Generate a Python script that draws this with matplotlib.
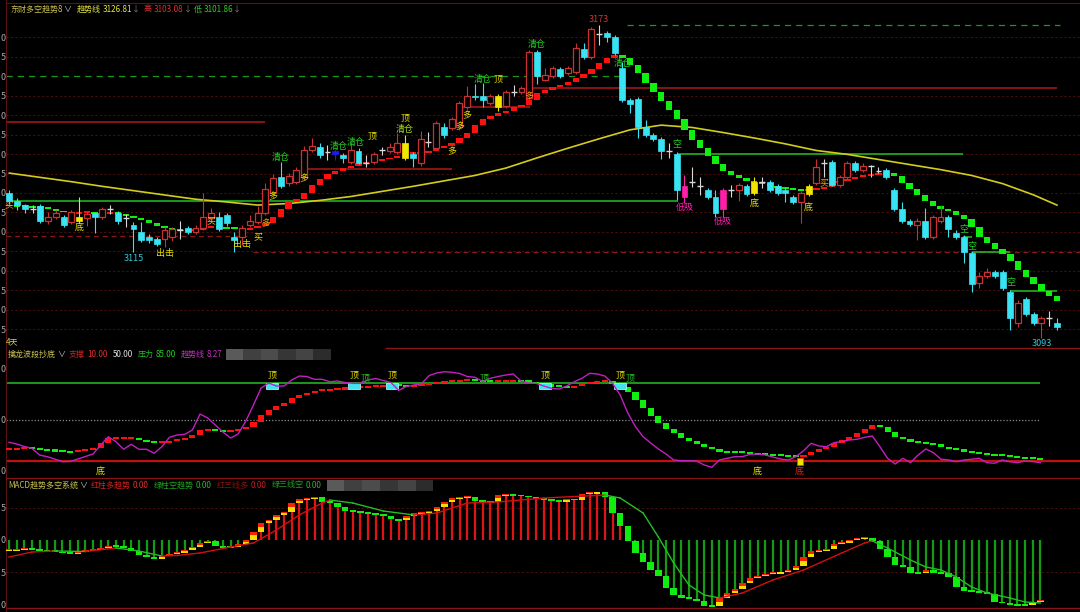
import matplotlib
matplotlib.use('Agg')
import matplotlib.pyplot as plt
from matplotlib.patches import Rectangle

plt.rcParams['font.family'] = ['Noto Sans CJK SC', 'DejaVu Sans']
plt.rcParams['axes.unicode_minus'] = False

# ---------------- 主图 K线 ----------------
opens = [3130.0, 3127.9, 3126.9, 3126.0, 3126.7, 3122.8, 3123.8, 3123.8, 3122.6, 3123.8,
         3123.6, 3124.9, 3123.8, 3125.9, 3124.9, 3123.6, 3121.8, 3119.9, 3118.7, 3118.2,
         3118.2, 3118.7, 3120.5, 3121.0, 3120.0, 3121.0, 3123.6, 3123.8, 3124.4, 3118.7,
         3118.7, 3121.8, 3122.6, 3124.9, 3130.0, 3134.1, 3132.6, 3132.8, 3134.1, 3141.0,
         3141.8, 3140.5, 3140.8, 3139.7, 3137.9, 3140.8, 3137.7, 3137.9, 3141.0, 3140.8,
         3140.5, 3142.8, 3140.0, 3137.7, 3143.1, 3141.5, 3146.9, 3146.7, 3146.9, 3152.1,
         3154.9, 3154.9, 3153.1, 3154.9, 3152.3, 3155.9, 3155.9, 3154.4, 3166.2, 3159.0,
         3160.0, 3161.8, 3160.8, 3161.0, 3166.9, 3164.9, 3170.8, 3171.0, 3170.0, 3162.1,
         3153.8, 3154.1, 3146.9, 3144.9, 3143.8, 3140.8, 3140.0, 3131.8, 3132.8, 3131.8,
         3130.8, 3129.0, 3130.8, 3130.8, 3130.8, 3131.8, 3132.8, 3132.8, 3132.8, 3131.8,
         3130.8, 3129.0, 3127.7, 3131.8, 3132.6, 3137.7, 3137.9, 3132.1, 3134.1, 3137.7,
         3135.9, 3136.9, 3135.6, 3135.9, 3130.8, 3125.9, 3122.8, 3121.8, 3122.8, 3118.7,
         3122.8, 3123.8, 3119.7, 3118.7, 3114.6, 3106.9, 3108.7, 3109.7, 3109.7, 3104.6,
         3096.7, 3102.8, 3099.0, 3096.7, 3097.9, 3096.7]
highs = [3130.8, 3128.7, 3127.2, 3126.9, 3127.2, 3125.1, 3125.6, 3124.4, 3125.6, 3129.0,
         3125.1, 3125.1, 3126.4, 3126.9, 3125.4, 3124.6, 3122.6, 3122.6, 3119.4, 3118.7,
         3121.3, 3121.3, 3122.8, 3121.6, 3121.8, 3130.0, 3126.2, 3125.1, 3124.9, 3120.0,
         3121.8, 3124.4, 3126.7, 3132.6, 3134.9, 3137.9, 3135.1, 3136.7, 3142.1, 3144.1,
         3142.8, 3142.3, 3141.3, 3140.3, 3143.1, 3141.5, 3139.7, 3140.5, 3141.8, 3142.8,
         3145.4, 3145.0, 3140.5, 3145.9, 3145.6, 3148.5, 3147.9, 3149.5, 3153.6, 3157.4,
         3158.0, 3158.2, 3155.4, 3155.4, 3156.4, 3157.7, 3157.4, 3166.7, 3166.7, 3162.1,
         3162.6, 3162.3, 3162.6, 3168.5, 3168.5, 3172.6, 3173.1, 3171.5, 3170.5, 3163.6,
         3154.4, 3154.6, 3148.7, 3145.4, 3144.4, 3142.8, 3140.5, 3134.6, 3136.7, 3134.1,
         3131.3, 3130.8, 3131.3, 3132.1, 3132.6, 3132.3, 3134.1, 3134.1, 3133.3, 3132.3,
         3131.3, 3129.5, 3130.5, 3132.3, 3138.7, 3138.7, 3138.5, 3134.6, 3138.2, 3138.2,
         3137.7, 3137.2, 3136.7, 3136.4, 3131.3, 3127.7, 3123.3, 3123.6, 3126.2, 3124.4,
         3126.9, 3124.4, 3120.5, 3119.2, 3115.1, 3109.7, 3110.8, 3110.3, 3110.3, 3105.1,
         3102.6, 3103.3, 3099.5, 3098.5, 3099.7, 3097.9]
lows = [3127.2, 3125.6, 3124.9, 3124.9, 3122.3, 3122.1, 3123.3, 3121.3, 3122.1, 3122.3,
        3121.6, 3119.7, 3123.3, 3124.6, 3122.1, 3121.3, 3114.9, 3117.4, 3117.1, 3116.4,
        3116.1, 3117.6, 3118.2, 3119.4, 3119.4, 3120.5, 3123.1, 3120.3, 3121.6, 3114.9,
        3116.7, 3121.3, 3122.1, 3124.4, 3129.5, 3131.3, 3131.8, 3132.3, 3133.6, 3140.5,
        3139.0, 3138.5, 3138.5, 3137.7, 3137.4, 3137.4, 3136.7, 3137.4, 3139.7, 3140.3,
        3140.0, 3138.5, 3136.7, 3136.9, 3141.8, 3141.0, 3144.1, 3146.2, 3146.2, 3151.5,
        3153.8, 3152.1, 3152.6, 3151.0, 3151.8, 3154.9, 3155.4, 3153.8, 3157.9, 3158.7,
        3159.5, 3159.5, 3160.3, 3160.5, 3164.4, 3164.4, 3167.9, 3168.7, 3165.4, 3153.3,
        3150.5, 3144.1, 3144.4, 3143.3, 3138.7, 3139.0, 3128.2, 3127.4, 3131.5, 3129.5,
        3128.5, 3123.8, 3123.8, 3129.0, 3127.9, 3129.2, 3129.5, 3131.3, 3130.3, 3129.5,
        3127.7, 3127.2, 3122.3, 3129.2, 3132.1, 3134.1, 3131.8, 3131.6, 3133.6, 3135.4,
        3135.4, 3134.1, 3135.1, 3133.6, 3125.4, 3122.3, 3121.6, 3117.9, 3118.2, 3118.2,
        3122.3, 3118.7, 3118.2, 3112.1, 3104.6, 3105.6, 3108.2, 3108.2, 3105.1, 3094.9,
        3095.6, 3098.5, 3096.2, 3092.8, 3095.9, 3094.9]
closes = [3127.9, 3126.9, 3125.9, 3126.0, 3122.8, 3123.8, 3124.9, 3121.8, 3125.1, 3122.8,
          3124.6, 3123.8, 3125.9, 3125.9, 3122.8, 3123.6, 3120.8, 3117.9, 3117.9, 3116.9,
          3120.5, 3120.8, 3120.5, 3120.0, 3121.0, 3123.8, 3124.9, 3120.8, 3122.3, 3117.9,
          3121.0, 3122.8, 3124.9, 3131.0, 3133.8, 3131.8, 3134.4, 3135.9, 3141.0, 3142.1,
          3139.7, 3140.5, 3140.0, 3139.0, 3141.0, 3137.7, 3137.7, 3140.0, 3141.0, 3141.8,
          3142.8, 3139.0, 3139.0, 3143.8, 3143.1, 3147.9, 3144.9, 3149.0, 3153.1, 3154.9,
          3154.6, 3153.8, 3154.9, 3152.1, 3155.9, 3155.9, 3156.9, 3166.2, 3160.0, 3160.3,
          3162.1, 3160.0, 3162.1, 3167.2, 3164.9, 3172.1, 3170.8, 3170.0, 3165.9, 3153.8,
          3152.8, 3146.9, 3144.9, 3143.8, 3140.8, 3140.8, 3130.8, 3129.0, 3132.8, 3131.8,
          3129.0, 3124.9, 3125.9, 3130.8, 3132.1, 3129.7, 3130.0, 3132.8, 3130.8, 3130.0,
          3130.0, 3127.7, 3130.0, 3129.7, 3136.7, 3137.7, 3132.1, 3134.1, 3137.7, 3135.9,
          3136.9, 3136.9, 3135.6, 3134.1, 3125.9, 3122.8, 3122.1, 3122.8, 3118.7, 3123.8,
          3123.8, 3120.8, 3118.7, 3114.9, 3106.7, 3108.7, 3109.7, 3108.7, 3105.6, 3097.9,
          3101.8, 3099.0, 3096.7, 3097.9, 3097.9, 3095.6]
yellow_bars = [9, 51, 63, 96, 103]
magenta_bars = [87, 92]
blue_bars = [42]

# 趋势线 (方块)
trend = [3126.8, 3126.7, 3126.5, 3126.4, 3126.2, 3125.9, 3125.4, 3125.1, 3124.9, 3125.0,
         3125.1, 3124.8, 3124.9, 3125.0, 3124.6, 3124.2, 3123.7, 3123.1, 3122.3, 3121.5,
         3120.9, 3120.5, 3120.4, 3120.5, 3120.6, 3121.0, 3121.4, 3121.2, 3121.0, 3120.9,
         3120.8, 3120.9, 3121.5, 3122.4, 3123.8, 3125.9, 3127.7, 3128.5, 3130.0, 3132.1,
         3133.6, 3134.9, 3135.6, 3136.4, 3136.9, 3137.6, 3137.8, 3138.2, 3138.7, 3139.0,
         3139.5, 3140.0, 3140.3, 3140.4, 3140.7, 3141.5, 3142.1, 3142.8, 3144.1, 3145.4,
         3147.4, 3149.0, 3149.7, 3150.5, 3151.0, 3152.1, 3152.6, 3153.9, 3155.6, 3156.5,
         3157.2, 3157.7, 3158.5, 3159.5, 3160.5, 3161.8, 3163.3, 3164.6, 3165.4, 3164.6,
         3162.8, 3160.8, 3158.2, 3155.9, 3153.6, 3151.3, 3149.0, 3146.2, 3143.6, 3141.5,
         3139.5, 3137.4, 3135.6, 3134.6, 3133.8, 3133.1, 3132.6, 3132.3, 3131.8, 3131.5,
         3131.3, 3130.9, 3130.8, 3130.9, 3131.0, 3131.5, 3132.6, 3133.1, 3133.6, 3134.1,
         3134.4, 3134.6, 3135.0, 3135.1, 3134.4, 3132.6, 3131.0, 3129.5, 3127.9, 3126.7,
         3125.9, 3125.4, 3124.4, 3123.3, 3121.3, 3118.7, 3117.2, 3115.6, 3114.4, 3112.6,
         3110.3, 3108.5, 3106.7, 3104.9, 3103.6, 3102.3]

# 黄色均线
ma_idx = [0, 4, 8, 12, 16, 20, 24, 28, 32, 36, 40, 44, 48, 52, 56, 60, 64, 68, 72, 76,
          80, 84, 88, 92, 96, 100, 104, 108, 112, 116, 120, 124, 128, 132, 135]
ma_val = [3135.1, 3134.0, 3132.9, 3131.7, 3130.6, 3129.5, 3128.4, 3127.7, 3126.9, 3127.3,
          3128.1, 3129.1, 3130.4, 3131.7, 3133.1, 3134.5, 3136.4, 3139.0, 3141.5, 3143.9,
          3146.2, 3147.4, 3146.8, 3145.5, 3144.1, 3142.6, 3140.9, 3139.9, 3138.6, 3137.3,
          3136.0, 3134.5, 3132.4, 3129.5, 3126.9]

# 支撑/压力水平线: 价格, 起, 止, 类型
lvl_price = [3127.9, 3160.0, 3173.1, 3148.2, 3136.2, 3152.1, 3156.9, 3140.0, 3119.0, 3114.8,
             3118.7, 3114.9, 3104.9]
lvl_start = [-0.4, -0.4, 79.6, -0.4, 38.4, 58.1, 66.8, 86.2, -0.4, 31.4, 122.9, 124.2, 129.0]
lvl_end = [86.2, 78.7, 135.4, 33.0, 57.0, 67.1, 135.0, 122.9, 30.6, 138.0, 124.0, 129.0, 135.0]
lvl_kind = ['g', 'gd', 'gd', 'r', 'r', 'r', 'r', 'g', 'rd', 'rd', 'g', 'g', 'g']

top_labels = [(0, 3126.9, '买', '#ff9a00'), (9, 3121.2, '底', '#e8e000'),
              (20, 3114.6, '出击', '#e8e000'), (26, 3122.8, '买', '#e8e000'),
              (30, 3116.9, '出击', '#e8e000'), (32, 3118.7, '买', '#e8e000'),
              (33, 3122.1, '多', '#ff9a00'), (34, 3129.0, '多', '#e8e000'),
              (35, 3139.2, '清仓', '#22d022'), (38, 3133.6, '多', '#e8e000'),
              (42.4, 3142.0, '清仓', '#22d022'), (44.7, 3143.0, '清仓', '#22d022'),
              (46.7, 3144.6, '顶', '#e8e000'), (51, 3146.2, '清仓', '#a8d820'),
              (51, 3149.2, '顶', '#e8e000'), (57, 3140.5, '多', '#e8e000'),
              (58, 3146.9, '多', '#e8e000'), (59, 3149.7, '多', '#e8e000'),
              (61, 3159.2, '清仓', '#22d022'), (63, 3159.2, '顶', '#e8e000'),
              (67, 3154.6, '多', '#ff9a00'), (68, 3168.2, '清仓', '#22d022'),
              (79, 3163.3, '清仓', '#22d022'), (86, 3142.3, '空', '#22d022'),
              (87, 3126.4, '低吸', '#ff20b0'), (92, 3122.6, '低吸', '#ff20b0'),
              (96, 3127.4, '底', '#e8e000'), (103, 3126.4, '底', '#e8e000'),
              (105, 3132.6, '买', '#ff9a00'), (123, 3120.5, '空', '#22d022'),
              (124, 3116.2, '空', '#22d022'), (129, 3107.0, '空', '#22d022'),
              (16, 3113.3, '3115', '#30c8d8'), (76, 3174.4, '3173', '#e03030'),
              (133, 3091.3, '3093', '#30c8d8')]

# ---------------- 擒龙波段抄底 ----------------
osc = [27.9, 26.2, 23.8, 22.0, 15.5, 13.9, 11.6, 9.0, 9.2, 11.6,
       13.9, 16.5, 25.2, 33.3, 28.4, 21.1, 25.9, 21.1, 21.1, 17.2,
       23.6, 32.7, 35.0, 35.6, 39.8, 55.3, 51.5, 44.7, 37.9, 32.0,
       35.9, 48.5, 64.1, 80.6, 85.4, 82.5, 82.5, 88.4, 92.2, 91.7,
       89.0, 89.0, 86.7, 87.4, 85.9, 85.1, 85.1, 88.4, 89.8, 87.9,
       85.9, 78.2, 82.0, 83.5, 84.9, 92.7, 95.2, 96.4, 95.8, 94.7,
       91.7, 91.0, 86.9, 90.0, 91.7, 93.2, 94.2, 87.4, 85.4, 85.1,
       82.5, 80.3, 79.6, 82.5, 86.7, 90.0, 94.9, 94.2, 92.2, 85.1,
       73.8, 56.3, 43.0, 33.3, 27.2, 21.4, 16.5, 10.7, 10.0, 10.0,
       9.7, 5.8, 3.6, 10.7, 12.3, 13.9, 13.9, 16.2, 16.5, 15.5,
       13.6, 11.6, 10.7, 13.9, 19.7, 26.9, 24.3, 23.6, 27.5, 28.6,
       30.1, 30.8, 32.7, 34.0, 23.6, 12.3, 6.8, 12.3, 8.1, 15.5,
       21.4, 17.8, 11.4, 10.7, 9.0, 10.7, 11.4, 12.3, 8.1, 7.5,
       10.7, 9.0, 8.1, 9.7, 9.2, 8.1]
band = [21.1, 22.0, 22.6, 22.0, 21.1, 20.1, 19.7, 18.7, 18.5, 19.7,
        21.1, 22.0, 26.9, 31.8, 32.0, 32.2, 32.4, 30.1, 28.4, 27.5,
        27.9, 29.1, 30.8, 31.8, 35.0, 39.8, 40.5, 39.1, 38.2, 39.3,
        40.5, 42.4, 47.9, 54.4, 59.2, 63.1, 66.3, 70.6, 73.8, 76.0,
        78.0, 78.6, 79.3, 79.9, 80.3, 81.3, 81.8, 82.0, 82.5, 83.0,
        83.5, 83.0, 82.5, 83.2, 84.2, 85.1, 85.7, 86.6, 87.4, 87.9,
        88.4, 87.9, 87.4, 86.7, 87.2, 87.6, 87.9, 87.4, 86.4, 85.4,
        83.5, 82.5, 81.8, 81.3, 82.5, 84.2, 86.1, 86.7, 87.7, 84.5,
        81.6, 76.7, 68.9, 60.9, 53.4, 46.3, 40.5, 36.6, 32.3, 29.1,
        26.2, 23.0, 21.1, 18.7, 18.5, 18.2, 17.8, 17.2, 16.5, 16.2,
        15.5, 14.9, 14.6, 14.3, 15.5, 18.7, 21.1, 23.0, 26.9, 30.1,
        33.3, 37.2, 40.8, 44.7, 43.0, 38.2, 33.3, 30.8, 28.4, 27.5,
        26.9, 25.9, 23.6, 21.6, 20.4, 19.4, 18.2, 17.2, 16.2, 15.5,
        14.9, 13.9, 13.3, 12.6, 12.3, 11.4]
top_box_bars = [34.4, 45.2, 50.1, 70.2, 80.0]
mid_labels = [(34.4, 93.2, '顶', '#e8e000'), (45.2, 93.2, '顶', '#e8e000'),
              (50.1, 93.2, '顶', '#e8e000'), (70.2, 93.2, '顶', '#e8e000'),
              (80.0, 93.2, '顶', '#e8e000'), (46.6, 89.5, '顶', '#22c022'),
              (62.2, 90.3, '顶', '#22c022'), (81.3, 89.5, '顶', '#22c022'),
              (11.9, -0.8, '底', '#e8e000'), (97.9, -0.8, '底', '#e8e000'),
              (103.5, -0.8, '底', '#e02020')]

# ---------------- MACD趋势多空系统 ----------------
dif = [-1.54, -1.43, -1.34, -1.43, -1.54, -1.69, -1.80, -2.05, -2.08, -1.85,
       -1.65, -1.54, -1.18, -0.92, -1.00, -1.18, -1.65, -2.31, -2.66, -2.97,
       -2.46, -2.15, -1.95, -1.54, -1.03, -0.42, -0.23, -0.92, -1.12, -1.15,
       -0.62, 0.00, 1.28, 2.57, 3.08, 3.85, 4.35, 5.65, 6.26, 6.42,
       6.57, 5.89, 5.74, 5.12, 4.51, 4.31, 4.20, 4.11, 4.00, 3.69,
       3.18, 3.08, 3.69, 4.11, 4.15, 4.51, 5.12, 5.89, 6.42, 6.54,
       6.69, 6.05, 5.85, 5.80, 6.92, 7.00, 6.92, 6.77, 6.62, 6.42,
       6.31, 6.05, 5.89, 6.26, 6.20, 7.08, 7.28, 7.31, 6.66, 4.11,
       2.15, -0.11, -1.95, -3.34, -4.62, -5.54, -7.43, -8.46, -8.88, -9.08,
       -9.38, -10.15, -10.18, -8.97, -8.11, -7.58, -6.66, -5.89, -5.54, -5.23,
       -5.03, -5.00, -4.62, -4.00, -2.66, -1.65, -1.62, -1.43, -0.62, -0.42,
       0.00, 0.26, 0.35, -0.11, -1.43, -2.66, -3.85, -4.20, -5.12, -5.15,
       -4.62, -5.03, -5.12, -5.74, -7.18, -7.80, -7.95, -8.11, -8.31, -9.49,
       -9.74, -10.00, -10.00, -10.05, -9.49, -9.34]
dea_idx = [0, 3, 6, 10, 14, 17, 20, 22, 25, 29, 32, 35, 38, 41, 42, 45, 49, 53, 56, 60,
           64, 67, 70, 78, 80, 83, 85, 87, 89, 91, 93, 96, 100, 104, 109, 112, 113, 115,
           118, 120, 122, 124, 126, 128, 131, 133, 135]
dea_val = [-2.62, -1.85, -1.69, -1.77, -1.23, -1.69, -2.46, -2.38, -2.0, -1.08, -0.46, 1.54,
           3.85, 5.69, 6.15, 5.69, 4.46, 3.85, 4.15, 5.69, 5.85, 6.15, 6.46, 6.92, 6.46,
           4.15, 0.46, -3.54, -6.92, -8.46, -8.92, -8.15, -6.15, -4.62, -2.0, -0.46, -0.15,
           -1.23, -3.08, -4.15, -4.62, -5.69, -7.23, -8.15, -8.92, -9.54, -9.69]

n = len(closes)
W, H = 1080, 612
fig = plt.figure(figsize=(10.8, 6.12), dpi=100, facecolor='black')
renderer = fig.canvas.get_renderer()


def panel(top, bottom):
    ax = fig.add_axes([6 / W, 1 - bottom / H, (W - 6) / W, (bottom - top) / H])
    ax.set_facecolor('black')
    for s in ax.spines.values():
        s.set_visible(False)
    ax.spines['left'].set_visible(True)
    ax.spines['left'].set_color('#5c1212')
    ax.set_xticks([])
    ax.tick_params(axis='y', length=0, pad=0.2, labelsize=6.5, labelcolor='#a8a8a8')
    return ax


def squares(ax, vals, width, min_h, first_col, up='#ff1010', dn='#10f010', split=False):
    prev_col = first_col
    for i, v in enumerate(vals):
        p = vals[i - 1] if i > 0 else v
        rising = v > p if v != p else prev_col != dn
        col = up if rising else dn
        lo, hi = min(p, v), max(p, v)
        if hi - lo < min_h:
            m = (hi + lo) / 2
            lo, hi = m - min_h / 2, m + min_h / 2
        if rising and split:
            ax.add_patch(Rectangle((i - width / 2, lo), width, hi - lo, facecolor='#f4e000',
                                   edgecolor='none', zorder=3))
            ax.add_patch(Rectangle((i - width / 2, lo + (hi - lo) * 0.55), width, (hi - lo) * 0.45,
                                   facecolor='#ff2000', edgecolor='none', zorder=3))
        else:
            ax.add_patch(Rectangle((i - width / 2, lo), width, hi - lo, facecolor=col,
                                   edgecolor='none', zorder=3))
        prev_col = col


def header(y, x, parts):
    # 依次排开标题文字, 按实际宽度推进
    for s, c, gap in parts:
        x += gap
        t = fig.text(x / W, 1 - y / H, s, color=c, fontsize=5.8, ha='left', va='center')
        x += t.get_window_extent(renderer=renderer).width
    return x


def blur_box(x0, y0, x1, y1):
    shades = ['#5a5a5a', '#404040', '#4c4c4c', '#363636', '#444444', '#2c2c2c']
    step = (x1 - x0) / len(shades)
    for k, c in enumerate(shades):
        fig.add_artist(Rectangle(((x0 + k * step) / W, 1 - y1 / H), step / W, (y1 - y0) / H,
                                 transform=fig.transFigure, facecolor=c, edgecolor='none'))


# ===== 主图 =====
ax1 = panel(0, 347)
ax1.set_xlim(-0.425, 137.97)
ax1.set_ylim(3090.51, 3179.49)
grid_p = list(range(3095, 3175, 5))
ax1.set_yticks(grid_p)
ax1.set_yticklabels([str(p)[-1] for p in grid_p])
for p in grid_p:
    if p != 3160:
        ax1.axhline(p, color='#4a0c0c', lw=0.8, ls=(0, (2, 2)), zorder=0)
ax1.axhline(3178.7, color='#5c1212', lw=0.8)

styles = {'g': ('#22c022', '-', 1.1), 'gd': ('#1a9a1a', (0, (5, 4)), 0.9),
          'r': ('#b01818', '-', 1.1), 'rd': ('#8a1818', (0, (4, 3)), 0.9)}
for p, a, b, k in zip(lvl_price, lvl_start, lvl_end, lvl_kind):
    c, ls, lw = styles[k]
    ax1.hlines(p, a, b, colors=c, linestyles=ls, lw=lw, zorder=1)

ax1.plot(ma_idx, ma_val, color='#d4cc1c', lw=1.2, zorder=2)
squares(ax1, trend, 0.82, 0.5, '#10f010')

bw = 0.76
for i in range(n):
    o, h, l, c = opens[i], highs[i], lows[i], closes[i]
    if i in yellow_bars or i in magenta_bars or i in blue_bars:
        col = '#f2e600' if i in yellow_bars else ('#ff1fa8' if i in magenta_bars else '#1a1aff')
        ax1.vlines(i, l, h, color=col, lw=0.8, zorder=4)
        ax1.add_patch(Rectangle((i - bw / 2, min(o, c)), bw, max(abs(c - o), 0.3),
                                facecolor=col, edgecolor=col, lw=0.5, zorder=5))
    elif abs(c - o) < 0.15:
        ax1.vlines(i, l, h, color='#d8d8d8', lw=0.8, zorder=4)
        ax1.hlines(o, i - bw / 2, i + bw / 2, color='#d8d8d8', lw=1.0, zorder=5)
    elif c > o:
        ax1.vlines(i, l, h, color='#c83232', lw=0.8, zorder=4)
        ax1.add_patch(Rectangle((i - bw / 2, o), bw, c - o, facecolor='black',
                                edgecolor='#c83232', lw=0.9, zorder=5))
    else:
        ax1.vlines(i, l, h, color='#38e4f4', lw=0.8, zorder=4)
        ax1.add_patch(Rectangle((i - bw / 2, c), bw, max(o - c, 0.3), facecolor='#38e4f4',
                                edgecolor='#38e4f4', lw=0.5, zorder=5))

for x, y, s, c in top_labels:
    ax1.text(x, y, s, color=c, fontsize=6.5, ha='center', va='center', zorder=6, clip_on=False)

# ===== 擒龙波段抄底 =====
ax2 = panel(347, 478)
ax2.set_xlim(-0.393, 140.19)
ax2.set_ylim(-6.8, 120.4)
ax2.set_yticks([0, 50, 100])
ax2.set_yticklabels(['0', '0', '0'])
ax2.hlines(119.4, 49.2, 141, color='#8a1515', lw=1.0)
ax2.hlines(50, -0.4, 135, color='#8c8c8c', lw=0.9, ls=(0, (1, 1.5)))
ax2.hlines(85, -0.4, 135, color='#22c022', lw=1.1)
ax2.axhline(10, color='#c01010', lw=1.6)
squares(ax2, band, 0.8, 2.0, '#ff1010')
for b in top_box_bars:
    ax2.add_patch(Rectangle((b - 0.8, 79.6), 1.6, 5.8, facecolor='#40e4f0',
                            edgecolor='#a0f4ff', lw=0.6, zorder=4))
ax2.add_patch(Rectangle((103.5 - 0.4, 5.8), 0.8, 6.8, facecolor='#f4e000',
                        edgecolor='#ff4000', lw=0.6, zorder=4))
ax2.plot(range(n), osc, color='#c020c0', lw=1.0, zorder=5)
for x, y, s, c in mid_labels:
    ax2.text(x, y, s, color=c, fontsize=6.5, ha='center', va='center', zorder=6)

# ===== MACD =====
ax3 = panel(478, 612)
ax3.set_xlim(-0.393, 140.19)
ax3.set_ylim(-11.08, 9.54)
ax3.set_yticks([5, 0, -5, -10])
ax3.set_yticklabels(['5', '0', '5', '0'])
ax3.spines['top'].set_visible(True)
ax3.spines['top'].set_color('#8a1515')
for v in (5, -5):
    ax3.axhline(v, color='#4a0c0c', lw=0.8, ls=(0, (2, 2)), zorder=0)
ax3.axhline(-10.46, color='#8a1515', lw=1.0)
bar_cols = ['#e01414' if d > 0 else '#159a15' for d in dif]
ax3.vlines(range(n), 0, dif, colors=bar_cols, lw=1.6, zorder=2)
squares(ax3, dif, 0.85, 0.3, '#ff1010', dn='#10ee10', split=True)
for k in range(len(dea_idx) - 1):
    c = '#d01010' if dea_val[k + 1] > dea_val[k] else '#22c022'
    ax3.plot(dea_idx[k:k + 2], dea_val[k:k + 2], color=c, lw=1.0, zorder=4)

# ===== 标题栏 =====
header(9, 10, [('东财多空趋势8', '#c8c050', 0), ('∨', '#c8c8c8', 1), ('趋势线', '#e0e040', 5),
               ('3126.81', '#e8e840', 2), ('↓', '#808080', 0), ('高', '#e03030', 4),
               ('3103.08', '#e03030', 2), ('↓', '#808080', 0), ('低', '#30c030', 2),
               ('3101.86', '#30d030', 2), ('↓', '#808080', 0)])
header(342, 6, [('4天', '#e0d040', 0)])
end2 = header(354, 8, [('擒龙波段抄底', '#c8c050', 0), ('∨', '#c8c8c8', 1), ('支撑', '#d02020', 4),
                       ('10.00', '#e03030', 2), ('50.00', '#e0e0e0', 5), ('压力', '#20c020', 5),
                       ('85.00', '#20d020', 2), ('趋势线', '#c030c0', 5), ('8.27', '#c030c0', 2)])
blur_box(end2 + 3, 349, end2 + 108, 360)
end3 = header(485, 8, [('MACD趋势多空系统', '#c8c050', 0), ('∨', '#c8c8c8', 1),
                       ('红柱多趋势', '#d02020', 4), ('0.00', '#e03030', 2),
                       ('绿柱空趋势', '#20a020', 5), ('0.00', '#20c020', 2),
                       ('红三线多', '#901010', 5), ('0.00', '#c02020', 2),
                       ('绿三线空', '#20a020', 5), ('0.00', '#20c020', 2)])
blur_box(end3 + 5, 480, end3 + 112, 491)

fig.savefig('out.png', dpi=100, facecolor='black')
